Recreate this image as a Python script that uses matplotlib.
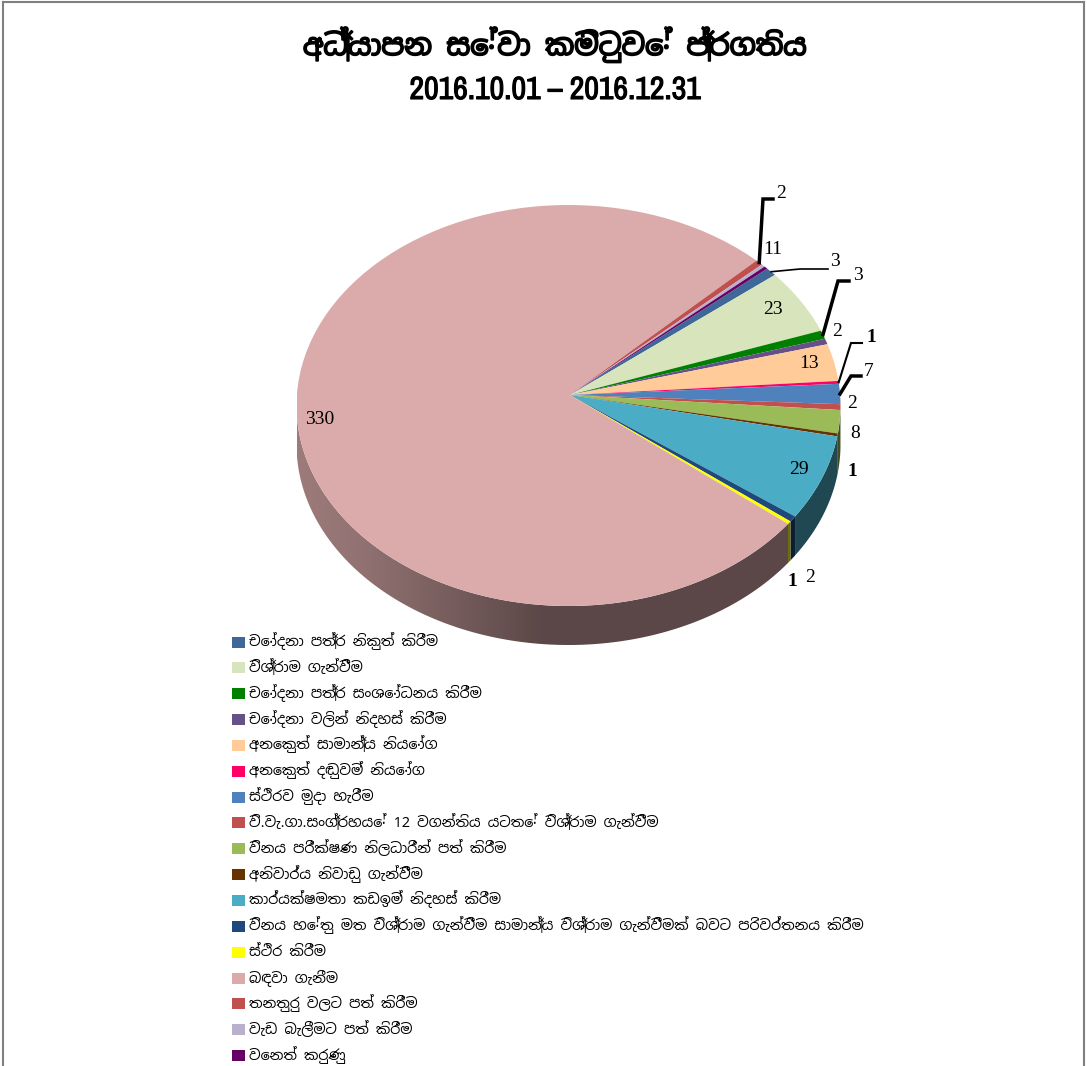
"""
අධ්‍යාපන සේවා කමිටුවේ ප්‍රගතිය - pie chart with a fake 3D wall
"""
import matplotlib
matplotlib.use('Agg')
import matplotlib.pyplot as plt
import matplotlib.patheffects as pe
from matplotlib.colors import to_rgb
from matplotlib.patches import Circle, Polygon, Rectangle
import numpy as np

plt.rcParams['font.family'] = ['Noto Sans Sinhala', 'Abhaya Libre', 'Gemunu Libre', 'FreeSerif', 'DejaVu Sans']

W, H = 1087, 1066

categories = [
    'චෝදනා පත්‍ර නිකුත් කිරීම',
    'විශ්‍රාම ගැන්වීම',
    'චෝදනා පත්‍ර සංශෝධනය කිරීම',
    'චෝදනා වලින් නිදහස් කිරීම',
    'අනෙකුත් සාමාන්‍ය නියෝග',
    'අනෙකුත් දඬුවම් නියෝග',
    'ස්ථිරව මුදා හැරීම',
    'වි.වැ.ගා.සංග්‍රහයේ 12 වගන්තිය යටතේ විශ්‍රාම ගැන්වීම',
    'විනය පරීක්ෂණ නිලධාරීන් පත් කිරීම',
    'අනිවාර්ය නිවාඩු ගැන්වීම',
    'කාර්යක්ෂමතා කඩඉම් නිදහස් කිරීම',
    'විනය හේතු මත විශ්‍රාම ගැන්වීම සාමාන්‍ය විශ්‍රාම ගැන්වීමක් බවට පරිවර්තනය කිරීම',
    'ස්ථිර කිරීම',
    'බඳවා ගැනීම',
    'තනතුරු වලට පත් කිරීම',
    'වැඩ බැලීමට පත් කිරීම',
    'වෙනත් කරුණු',
]
values = [3, 23, 3, 2, 13, 1, 7, 2, 8, 1, 29, 2, 1, 330, 2, 1, 1]
colors = ['#3F6797', '#D8E4BC', '#008000', '#675088', '#FFCC99', '#FF0066', '#4F81BD',
          '#C0504D', '#9BBB59', '#663300', '#4BACC6', '#1F497D', '#FFFF00', '#DBABAB',
          '#C0504D', '#B9B0CB', '#660066']

# label, x, y in picture pixels
labels_plain = [('11', 773, 250), ('23', 773, 310), ('2', 837, 332), ('13', 809, 364),
                ('2', 852, 404), ('8', 855, 433), ('29', 799, 470), ('1', 852, 472),
                ('2', 810, 577), ('1', 792, 582), ('330', 320, 419)]
# label, x, y, index of slice, elbow x, elbow y, end x, line width
labels_leader = [('2', 781, 193, 14, 763, 199, 773, 2.5),
                 ('3', 835, 262, 0, 800, 269, 828, 1.2),
                 ('3', 858, 276, 2, 838, 281, 849, 2.5),
                 ('1', 871, 337, 5, 851, 343, 862, 1.5),
                 ('7', 869, 371, 6, 851, 376, 861, 2.5)]

# ellipse of the top face, pixels
cx, cy, rx, ry, depth = 568.5, 405.5, 272, 200.5, 39
# slices meet above the ellipse centre (perspective)
apex_x, apex_y = (570 - cx) / rx, (cy - 395) / ry
start_angle = 41


def rim_angle(theta):
    """angle on the rim where a ray from the apex at theta ends up"""
    a = np.radians(theta)
    ux, uy = np.cos(a), np.sin(a)
    b = apex_x * ux + apex_y * uy
    s = -b + np.sqrt(b * b - (apex_x ** 2 + apex_y ** 2 - 1))
    t = np.degrees(np.arctan2(apex_y + s * uy, apex_x + s * ux))
    return t + 360 * np.round((theta - t) / 360)


def to_px(angle):
    a = np.radians(angle)
    return cx + rx * np.cos(a), cy - ry * np.sin(a)


fig = plt.figure(figsize=(W / 100, H / 100), dpi=100, facecolor='white')

ax = fig.add_axes([(cx - rx) / W, (H - cy - ry - depth) / H, 2 * rx / W, (2 * ry + depth) / H])
wedges, _ = ax.pie(values, colors=colors, startangle=start_angle, counterclock=False,
                   center=(apex_x, apex_y), radius=1.3, wedgeprops={'linewidth': 0, 'zorder': 5})
d = depth / ry
ax.set_aspect('auto')
ax.set_xlim(-1, 1)
ax.set_ylim(-1 - d, 1)

rim = Circle((0, 0), 1, transform=ax.transData, fc='none', ec='none')
ax.add_patch(rim)
for wedge in wedges:
    wedge.set_clip_on(True)
    wedge.set_clip_path(rim)

# side wall, darker towards the middle
xs = np.linspace(-1, 1, 400)
shade = np.interp(xs, [-1, -0.75, -0.1, 1], [0.72, 0.66, 0.42, 0.42])
for wedge, color in zip(wedges, colors):
    t = np.radians(np.linspace(rim_angle(wedge.theta1), rim_angle(wedge.theta2), 300))
    t = t[np.sin(t) <= 0]
    if len(t) < 2:
        continue
    top = np.column_stack([np.cos(t), np.sin(t)])
    low = top[::-1] - [0, d]
    patch = Polygon(np.vstack([top, low]), closed=True, fc='none', ec='none')
    ax.add_patch(patch)
    grad = np.outer(shade, to_rgb(color)).reshape(1, -1, 3)
    im = ax.imshow(grad, extent=(-1, 1, -1 - d, 1), aspect='auto', zorder=2, interpolation='bilinear')
    im.set_clip_path(patch)
ax.set_xlim(-1, 1)
ax.set_ylim(-1 - d, 1)

# overlay in picture pixels
over = fig.add_axes([0, 0, 1, 1], facecolor='none')
over.set_xlim(0, W)
over.set_ylim(H, 0)
over.axis('off')

# page border
over.plot([3, 3], [H, 2], color='#808080', lw=1.5)
over.plot([3, 1084], [2, 2], color='#808080', lw=1.5)
over.plot([1084, 1084], [2, H], color='#808080', lw=1.5)

# the fonts have no heavy cut that draws these signs well, thicken with a stroke
over.text(555, 45, 'අධ්‍යාපන සේවා කමිටුවේ ප්‍රගතිය', ha='center', va='center', fontsize=20.8,
          fontweight='bold', color='black',
          path_effects=[pe.withStroke(linewidth=1.2, foreground='black')])
over.text(555, 90, '2016.10.01 – 2016.12.31', ha='center', va='center', fontsize=23,
          family=['Archivo Narrow', 'Liberation Sans'], color='black',
          path_effects=[pe.withStroke(linewidth=0.8, foreground='black')])

label_font = {'family': 'Liberation Serif', 'fontsize': 14, 'ha': 'center', 'va': 'center', 'color': 'black'}
for txt, x, y in labels_plain:
    over.text(x, y, txt, fontweight='bold' if txt == '1' else 'normal', **label_font)
for txt, x, y, idx, ex, ey, end, lw in labels_leader:
    w = wedges[idx]
    sx, sy = to_px(rim_angle((w.theta1 + w.theta2) / 2))
    over.plot([sx, ex, end], [sy, ey, ey], color='black', lw=lw, solid_joinstyle='miter', zorder=6)
    over.text(x, y, txt, fontweight='bold' if txt == '1' else 'normal', **label_font)

# legend rows, even spacing like the original
for i, (cat, color) in enumerate(zip(categories, colors)):
    y = 642 + 25.85 * i
    over.add_patch(Rectangle((232, y - 5.5), 13, 11, fc=color, ec='none'))
    over.text(249, y + 4, cat, fontsize=10.3, va='baseline', color='black')

fig.savefig('out.png', dpi=100)
